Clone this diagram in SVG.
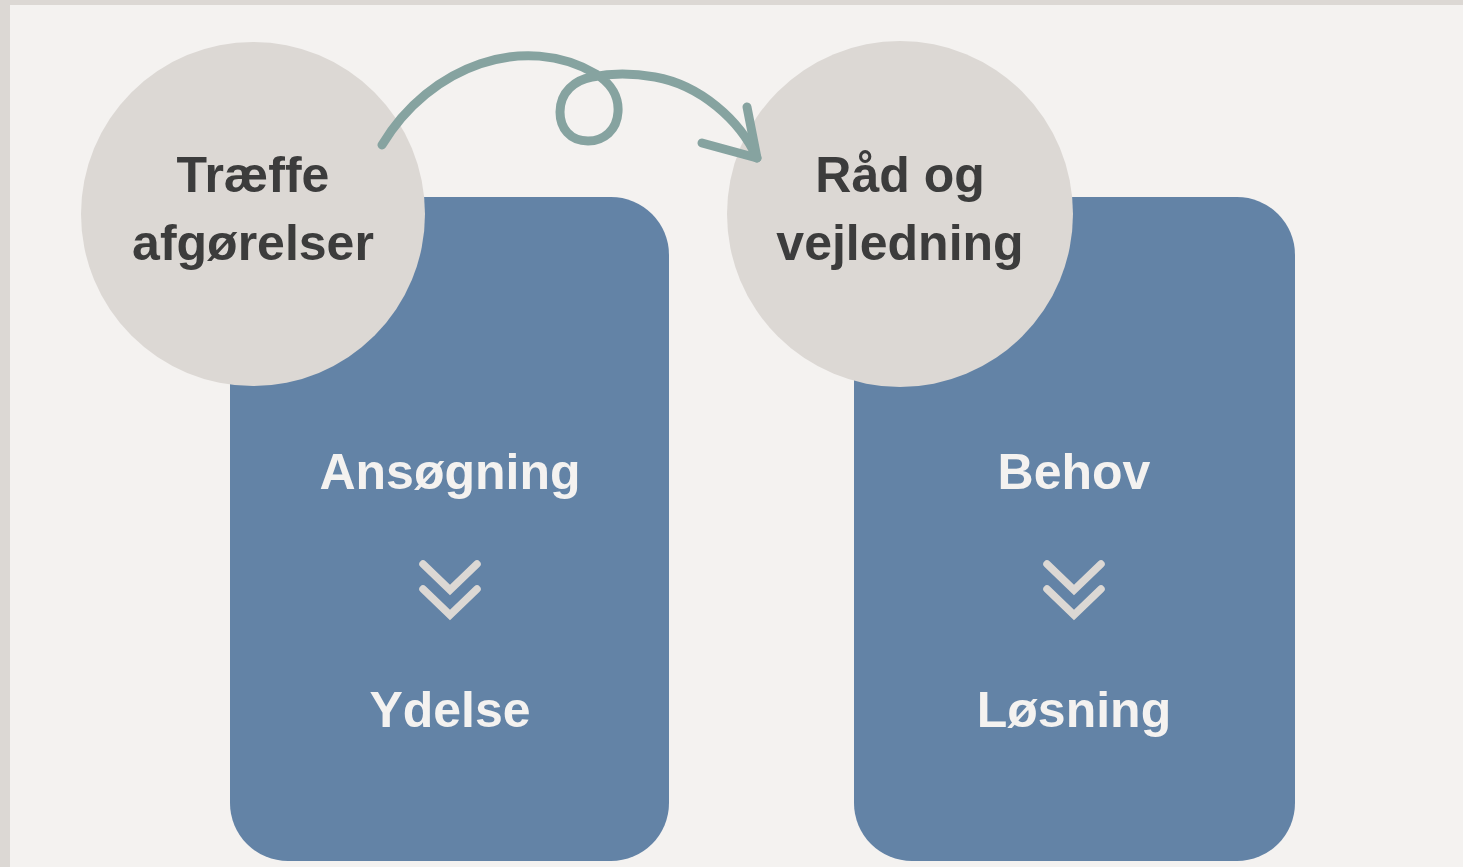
<svg xmlns="http://www.w3.org/2000/svg" width="1463" height="867" viewBox="0 0 1463 867">
  <style>
    .card { fill: #6383a6; }
    .bubble { fill: #dcd8d4; }
    .dark { font-family: "Liberation Sans", Arial, sans-serif; font-weight: bold; font-size: 50px; fill: #3c3c3c; text-anchor: middle; }
    .light { font-family: "Liberation Sans", Arial, sans-serif; font-weight: bold; font-size: 50px; fill: #f4f2f0; text-anchor: middle; }
    .chev { fill: none; stroke: #dcd8d4; stroke-width: 7.5; stroke-linecap: round; stroke-linejoin: miter; }
    .flow { fill: none; stroke: #86a3a0; stroke-width: 9; stroke-linecap: round; stroke-linejoin: round; }
  </style>

  <!-- page background with frame strips -->
  <rect x="0" y="0" width="1463" height="867" fill="#dcd8d4"/>
  <rect x="10" y="5" width="1453" height="862" fill="#f4f2f0"/>

  <!-- left card -->
  <g id="card-ansoegning">
    <rect class="card" x="230" y="197" width="439" height="664" rx="58"/>
    <text class="light" x="450" y="489">Ansøgning</text>
    <path class="chev" d="M423,564 L450,590 L477,564 M423,589 L450,615 L477,589"/>
    <text class="light" x="450" y="727">Ydelse</text>
  </g>

  <!-- right card -->
  <g id="card-behov">
    <rect class="card" x="854" y="197" width="441" height="664" rx="58"/>
    <text class="light" x="1074" y="489">Behov</text>
    <path class="chev" d="M1047,564 L1074,590 L1101,564 M1047,589 L1074,615 L1101,589"/>
    <text class="light" x="1074" y="727">Løsning</text>
  </g>

  <!-- circle labels -->
  <g id="node-traeffe">
    <circle class="bubble" cx="253" cy="214" r="172"/>
    <text class="dark" x="253" y="192">Træffe</text>
    <text class="dark" x="253" y="260">afgørelser</text>
  </g>

  <g id="node-raad">
    <circle class="bubble" cx="900" cy="214" r="173"/>
    <text class="dark" x="900" y="192">Råd og</text>
    <text class="dark" x="900" y="260">vejledning</text>
  </g>

  <!-- hand-drawn looping arrow -->
  <g id="connectors">
    <path class="flow" d="M382,145 C430,65 525,32 596,74 C612,84 619,98 618,112 C617,130 604,141 588,141 C570,141 560,128 560,112 C560,92 575,80 592,77 C612,73 632,73 655,77 C700,85 740,120 757,158"/>
    <path class="flow" d="M747,107 L757,158 L702,143"/>
  </g>
</svg>
